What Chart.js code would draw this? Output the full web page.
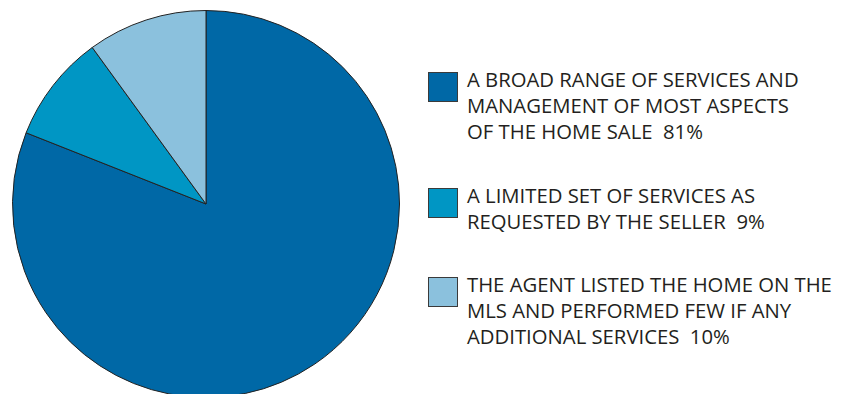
<!DOCTYPE html>
<html>
<head>
<meta charset="utf-8">
<script src="https://cdn.jsdelivr.net/npm/chart.js@4/dist/chart.umd.min.js"></script>
<style>
    html, body {
        margin: 0;
        padding: 0;
        width: 856px;
        height: 394px;
        overflow: hidden;
        background: #ffffff;
    }
    .pie-wrap {
        position: absolute;
        left: 12px;
        top: 10px;
        width: 388px;
        height: 388px;
    }
    .legend {
        position: absolute;
        left: 428px;
        top: 0;
        font-family: "Open Sans", sans-serif;
        font-size: 20.3px;
        line-height: 26px;
        color: #231f20;
    }
    .legend-item {
        position: absolute;
        left: 0;
        white-space: nowrap;
    }
    .legend-box {
        position: absolute;
        left: 0;
        top: 6px;
        width: 28px;
        height: 28px;
        border: 1px solid #3a3a3a;
    }
    .legend-text {
        position: absolute;
        left: 39px;
        top: 0;
    }
</style>
</head>
<body>
<div class="pie-wrap"><canvas id="pieChart"></canvas></div>
<div class="legend" id="legend"></div>

<script>
// Slices, clockwise from 12 o'clock
const categories = [
    ['A BROAD RANGE OF SERVICES AND', 'MANAGEMENT OF MOST ASPECTS', 'OF THE HOME SALE'],
    ['A LIMITED SET OF SERVICES AS', 'REQUESTED BY THE SELLER'],
    ['THE AGENT LISTED THE HOME ON THE', 'MLS AND PERFORMED FEW IF ANY', 'ADDITIONAL SERVICES']
];
const shares = [81, 9, 10];
const sliceColors = ['#0068a6', '#0096c4', '#8bc1dd'];
const legendTops = [66, 182, 271];

function buildLegend() {
    const legend = document.getElementById('legend');
    legend.innerHTML = categories.map((lines, i) => {
        const text = lines.map((line, j) =>
            j === lines.length - 1 ? `${line}&nbsp; ${shares[i]}%` : line
        ).join('<br>');
        return `
            <div class="legend-item" style="top:${legendTops[i]}px">
                <div class="legend-box" style="background:${sliceColors[i]}"></div>
                <div class="legend-text">${text}</div>
            </div>`;
    }).join('');
}

function initPie() {
    const ctx = document.getElementById('pieChart').getContext('2d');
    new Chart(ctx, {
        type: 'pie',
        data: {
            labels: categories.map(lines => lines.join(' ')),
            datasets: [{
                data: shares,
                backgroundColor: sliceColors,
                borderColor: '#222222',
                borderWidth: 1
            }]
        },
        options: {
            responsive: true,
            maintainAspectRatio: false,
            animation: false,
            layout: { padding: 0 },
            plugins: {
                legend: { display: false },
                tooltip: { enabled: false }
            }
        }
    });
}

buildLegend();
initPie();
</script>
</body>
</html>
